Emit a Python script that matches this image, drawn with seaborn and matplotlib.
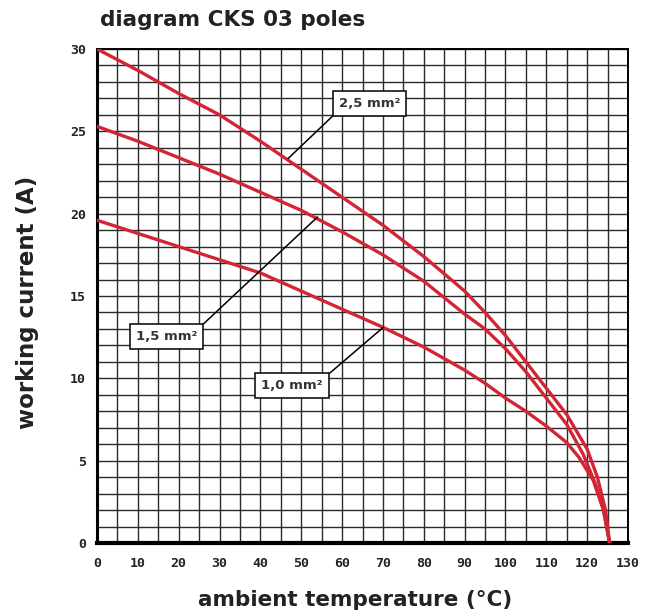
import matplotlib
matplotlib.use("Agg")
import matplotlib.pyplot as plt
import seaborn as sns
import pandas as pd
from matplotlib.ticker import MultipleLocator

# ---- data ----
temp_25 = [0, 10, 20, 30, 40, 50, 60, 70, 80, 90, 95, 100, 105, 110, 115, 120, 122.5, 124.5, 125.5]
cur_25 = [30.0, 28.7, 27.3, 26.0, 24.4, 22.7, 21.0, 19.3, 17.4, 15.3, 14.0, 12.6, 11.0, 9.4, 7.8, 5.7, 4.0, 2.0, 0.0]

temp_15 = [0, 10, 20, 30, 40, 50, 60, 70, 80, 90, 95, 100, 105, 110, 115, 119, 122, 124, 125.5]
cur_15 = [25.3, 24.4, 23.4, 22.4, 21.3, 20.2, 18.9, 17.5, 15.9, 13.9, 13.0, 11.8, 10.4, 8.8, 7.2, 5.4, 3.6, 2.0, 0.0]

temp_10 = [0, 10, 20, 30, 40, 50, 60, 70, 80, 90, 95, 100, 105, 110, 115, 118, 121.5, 124, 125.5]
cur_10 = [19.6, 18.8, 18.0, 17.2, 16.4, 15.3, 14.2, 13.1, 11.9, 10.5, 9.7, 8.8, 8.0, 7.1, 6.1, 5.2, 3.8, 2.0, 0.0]

sections = ["2,5 mm²", "1,5 mm²", "1,0 mm²"]
x_ticks = [0, 10, 20, 30, 40, 50, 60, 70, 80, 90, 100, 110, 120, 130]
y_ticks = [0, 5, 10, 15, 20, 25, 30]

title = "diagram CKS 03 poles"
x_label = "ambient temperature (°C)"
y_label = "working current (A)"

df = pd.concat([
    pd.DataFrame({"temp": temp_25, "current": cur_25, "section": sections[0]}),
    pd.DataFrame({"temp": temp_15, "current": cur_15, "section": sections[1]}),
    pd.DataFrame({"temp": temp_10, "current": cur_10, "section": sections[2]}),
])

sns.set_style("white")
plt.rcParams["font.family"] = ["DejaVu Sans"]

fig = plt.figure(figsize=(6.58, 6.16), dpi=100)
ax = fig.add_axes([97 / 658, 1 - 543 / 616, (628 - 97) / 658, (543 - 49) / 616])

red = "#d42535"
sns.lineplot(data=df, x="temp", y="current", hue="section", palette=[red] * 3,
             estimator=None, sort=False, legend=False, linewidth=2.4, ax=ax, zorder=5)

ax.set_xlim(0, 130)
ax.set_ylim(0, 30)
ax.set_xticks(x_ticks)
ax.set_yticks(y_ticks)
ax.xaxis.set_minor_locator(MultipleLocator(5))
ax.yaxis.set_minor_locator(MultipleLocator(1))
ax.grid(which="both", color="#2b2b2b", linewidth=1.0, zorder=1)
ax.set_axisbelow(True)

tick_font = dict(family="DejaVu Sans Mono", weight="bold", size=9.5)
ax.set_xticklabels([str(v) for v in x_ticks], **tick_font, color="#222")
ax.set_yticklabels([str(v) for v in y_ticks], **tick_font, color="#222")
ax.tick_params(axis="both", which="major", length=6, width=1.4, color="black", direction="out")
ax.tick_params(axis="x", which="major", pad=4)
ax.tick_params(axis="y", which="major", pad=2)
ax.tick_params(which="minor", length=0)

for side in ["top", "right"]:
    ax.spines[side].set_linewidth(1.4)
    ax.spines[side].set_color("black")
ax.spines["left"].set_linewidth(2.2)
ax.spines["bottom"].set_linewidth(3.0)
ax.spines["left"].set_color("black")
ax.spines["bottom"].set_color("black")

ax.set_xlabel("")
ax.set_ylabel("")
fig.text(355 / 658, 1 - 600 / 616, x_label, ha="center", va="center",
         fontsize=15.5, fontweight="bold", color="#222")
fig.text(28 / 658, 1 - 302 / 616, y_label, ha="center", va="center", rotation=90,
         fontsize=16.5, fontweight="bold", color="#222")
fig.text(100 / 658, 1 - 20 / 616, title, ha="left", va="center",
         fontsize=15.5, fontweight="bold", color="#222")

label_pos = {
    sections[0]: ((46.8, 23.35), (66.8, 26.7), (0.0, 0.0)),
    sections[1]: ((54.0, 19.8), (17.0, 12.55), (1.0, 1.0)),
    sections[2]: ((70.1, 13.1), (47.7, 9.55), (1.0, 1.0)),
}
for name, (xy, xytext, rel) in label_pos.items():
    ax.annotate(name, xy=xy, xytext=xytext, ha="center", va="center",
                fontsize=9.5, fontweight="bold", color="#333", zorder=10,
                bbox=dict(boxstyle="square,pad=0.45", fc="white", ec="black", lw=1.1),
                arrowprops=dict(arrowstyle="-", color="black", lw=1.1,
                                shrinkA=0, shrinkB=0, relpos=rel))

fig.savefig("out.png", dpi=100)
